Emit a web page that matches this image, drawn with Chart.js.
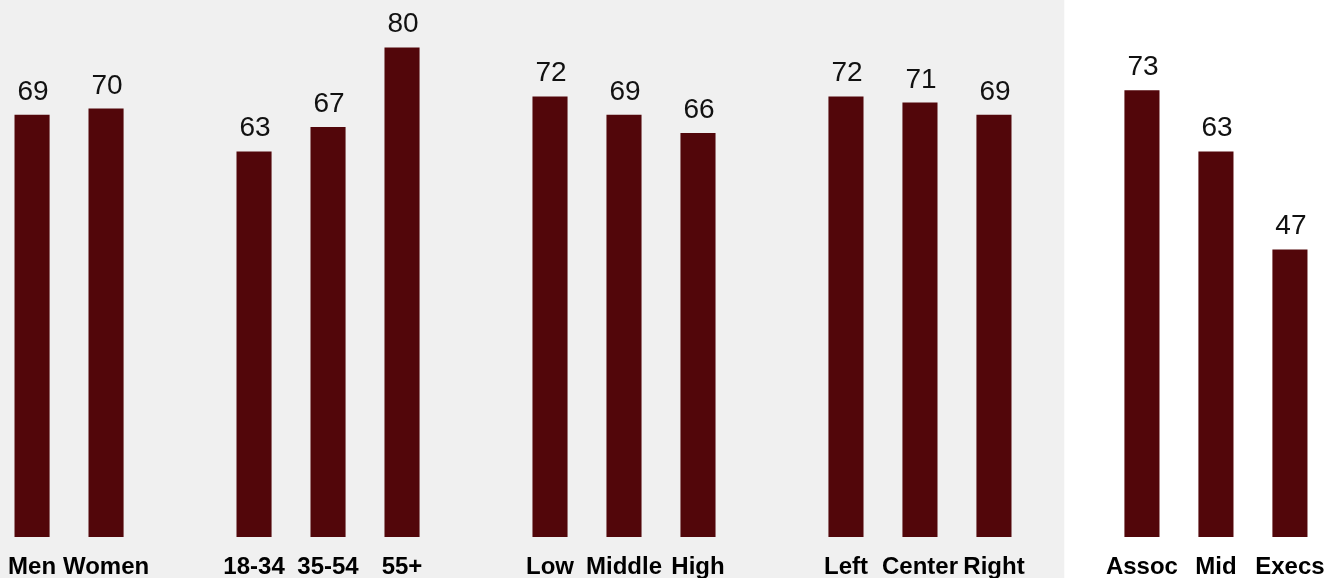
<!DOCTYPE html>
<html>
<head>
<meta charset="utf-8">
<script src="https://cdn.jsdelivr.net/npm/chart.js@4/dist/chart.umd.min.js"></script>
<style>
  html, body { margin: 0; padding: 0; background: #ffffff; overflow: hidden; }
  #wrap { position: relative; width: 1329px; height: 578px; overflow: hidden; }
  #chart { position: absolute; left: -10px; top: 0; }
</style>
</head>
<body>
<div id="wrap"><canvas id="chart" width="1353" height="598"></canvas></div>
<script>
// Category slots; empty strings are spacer slots between the groups
const categories = [
  'Men', 'Women', '',
  '18-34', '35-54', '55+', '',
  'Low', 'Middle', 'High', '',
  'Left', 'Center', 'Right', '',
  'Assoc', 'Mid', 'Execs'
];
// Share of respondents per group (null = spacer)
const values = [
  69, 70, null,
  63, 67, 80, null,
  72, 69, 66, null,
  72, 71, 69, null,
  73, 63, 47
];
const yMax = 87.75;
// Shaded panel covers everything up to the gap before the last group
const shadedUntil = 13.95;

const FONT = "'Liberation Sans', Arial, Helvetica, sans-serif";

const panelBackground = {
  id: 'panelBackground',
  beforeDraw(chart) {
    const { ctx, scales: { x } } = chart;
    ctx.save();
    ctx.fillStyle = '#f0f0f0';
    ctx.fillRect(0, 0, x.getPixelForValue(shadedUntil), chart.height);
    ctx.restore();
  }
};

const valueLabels = {
  id: 'valueLabels',
  afterDatasetsDraw(chart) {
    const { ctx } = chart;
    const meta = chart.getDatasetMeta(0);
    ctx.save();
    ctx.font = '28px ' + FONT;
    ctx.fillStyle = '#111111';
    ctx.textAlign = 'center';
    ctx.textBaseline = 'alphabetic';
    meta.data.forEach((bar, i) => {
      const v = values[i];
      if (v === null) return;
      ctx.fillText(String(v), bar.x + 1, bar.y - 15);
    });
    ctx.restore();
  }
};

new Chart(document.getElementById('chart'), {
  type: 'bar',
  data: {
    labels: categories,
    datasets: [{
      data: values,
      backgroundColor: '#52060a',
      borderWidth: 0,
      barPercentage: 0.474,
      categoryPercentage: 1.0
    }]
  },
  options: {
    responsive: false,
    animation: false,
    events: [],
    layout: { autoPadding: false, padding: 0 },
    plugins: {
      legend: { display: false },
      tooltip: { enabled: false },
      title: { display: false }
    },
    scales: {
      x: {
        offset: true,
        grid: { display: false, drawTicks: false },
        border: { display: false },
        ticks: {
          autoSkip: false,
          maxRotation: 0,
          minRotation: 0,
          padding: 18.5,
          color: '#000000',
          font: { family: FONT, size: 24, weight: 'bold', lineHeight: 1.0 }
        }
      },
      y: {
        display: false,
        min: 0,
        max: yMax,
        grid: { display: false }
      }
    }
  },
  plugins: [panelBackground, valueLabels]
});
</script>
</body>
</html>
